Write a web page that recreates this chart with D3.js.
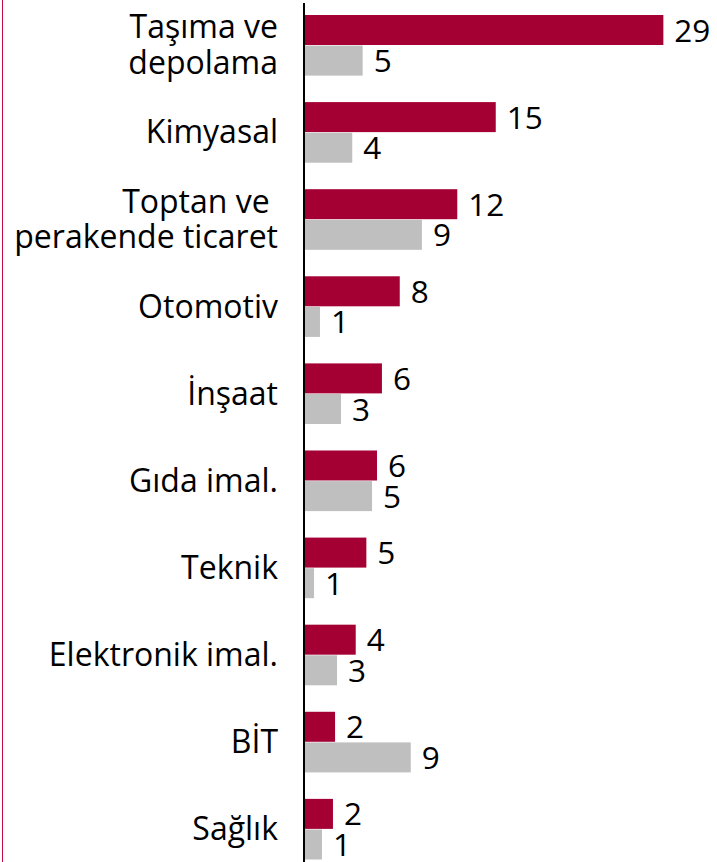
<!DOCTYPE html>
<html>
<head>
<meta charset="utf-8">
<script src="https://cdn.jsdelivr.net/npm/d3@7"></script>
<style>
  body { margin: 0; background: #fff; }
  svg { display: block; }
  text { font-family: "Open Sans", "Noto Sans", sans-serif; fill: #000; white-space: pre; }
</style>
</head>
<body>
<div id="container"></div>
<script>
// sector names (line breaks as in the original labels)
let categories = [
  "Taşıma ve\ndepolama",
  "Kimyasal",
  "Toptan ve \nperakende ticaret",
  "Otomotiv",
  "İnşaat",
  "Gıda imal.",
  "Teknik",
  "Elektronik imal.",
  "BİT",
  "Sağlık"
];
let seriesNames = ["first", "second"];
// red bars
let firstValues = [28.97, 15.42, 12.31, 7.66, 6.22, 5.82, 4.96, 4.10, 2.43, 2.26];
// grey bars
let secondValues = [4.66, 3.82, 9.45, 1.21, 2.91, 5.42, 0.73, 2.59, 8.55, 1.37];

let colors = { first: "#A50034", second: "#BFBFBF" };

let w = 717;
let h = 862;

let svg = d3.select("#container").append("svg")
  .attr("width", w)
  .attr("height", h);

let rows = categories.map((c, i) => ({
  cat: c,
  vals: [
    { key: "first", value: firstValues[i] },
    { key: "second", value: secondValues[i] }
  ]
}));

let x = d3.scaleLinear()
  .domain([0, 30])
  .range([305, 305 + 30 * 12.37]);

let y = d3.scaleBand()
  .domain(categories)
  .range([15, 859.5])
  .paddingInner(0.304)
  .paddingOuter(0);

let ySub = d3.scaleBand()
  .domain(seriesNames)
  .range([0, y.bandwidth()])
  .paddingInner(0.02);

// thin red frame line on the left
svg.append("line")
  .attr("x1", 2.5).attr("x2", 2.5)
  .attr("y1", 0).attr("y2", h)
  .attr("stroke", "#C0103F")
  .attr("stroke-width", 1);

let groups = svg.selectAll(".grp")
  .data(rows)
  .enter()
  .append("g")
  .attr("class", "grp")
  .attr("transform", d => "translate(0," + y(d.cat) + ")");

groups.selectAll("rect")
  .data(d => d.vals)
  .enter()
  .append("rect")
  .attr("x", x(0))
  .attr("y", d => ySub(d.key))
  .attr("width", d => x(d.value) - x(0))
  .attr("height", ySub.bandwidth())
  .attr("fill", d => colors[d.key]);

groups.selectAll(".val")
  .data(d => d.vals)
  .enter()
  .append("text")
  .attr("class", "val")
  .attr("x", d => x(d.value) + 11)
  .attr("y", d => ySub(d.key) + ySub.bandwidth() / 2 + 11.5)
  .style("font-size", "31.5px")
  .text(d => d3.format(".0f")(d.value));

// category labels, right aligned
let catLabels = groups.append("text")
  .attr("text-anchor", "end")
  .style("font-size", "32px");

catLabels.each(function(d) {
  let lines = d.cat.split("\n");
  let center = y.bandwidth() / 2;
  let lh = 36;
  lines.forEach((ln, k) => {
    d3.select(this).append("tspan")
      .attr("x", 278)
      .attr("y", center + 11 + (k - (lines.length - 1) / 2) * lh)
      .text(ln);
  });
});

// vertical axis line
svg.append("line")
  .attr("x1", 304).attr("x2", 304)
  .attr("y1", 3).attr("y2", h)
  .attr("stroke", "#000")
  .attr("stroke-width", 2);
</script>
</body>
</html>
